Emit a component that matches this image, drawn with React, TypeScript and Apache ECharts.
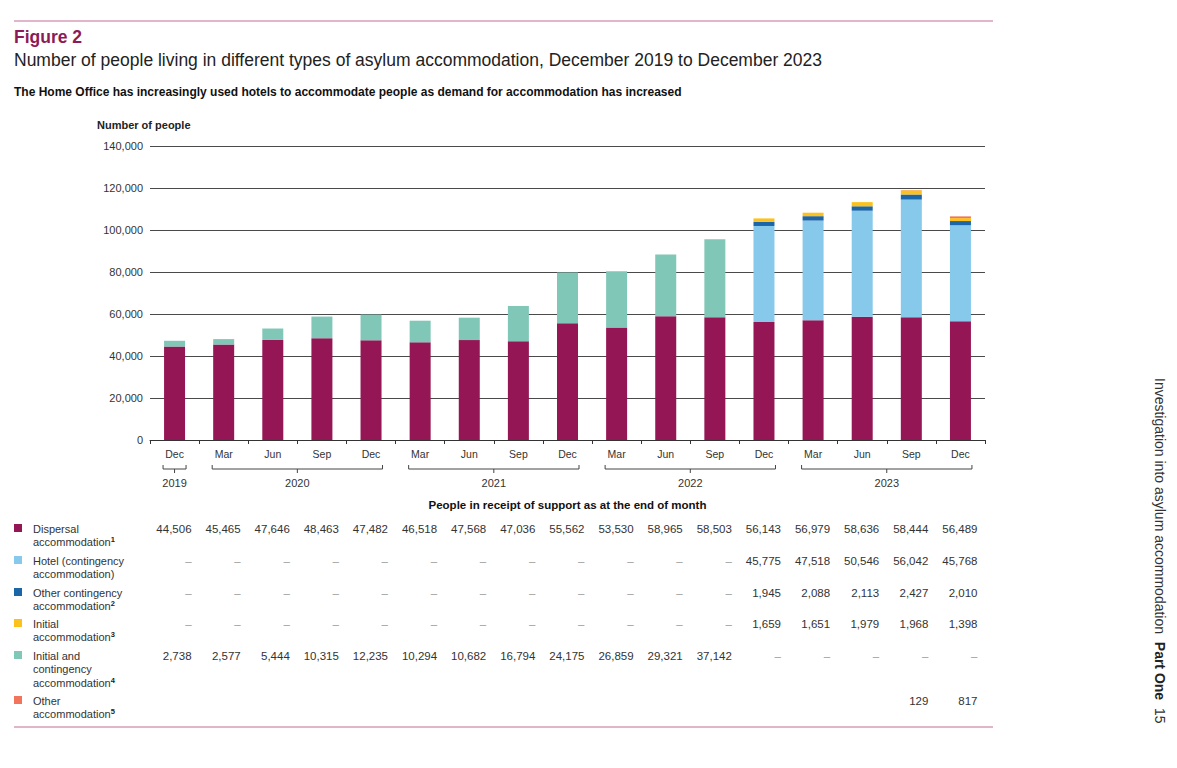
import React, { useEffect, useRef } from "react";
import * as echarts from "echarts";

const months = ["Dec", "Mar", "Jun", "Sep", "Dec", "Mar", "Jun", "Sep", "Dec", "Mar", "Jun", "Sep", "Dec", "Mar", "Jun", "Sep", "Dec"];
const N = null;
const dispersal = [44506, 45465, 47646, 48463, 47482, 46518, 47568, 47036, 55562, 53530, 58965, 58503, 56143, 56979, 58636, 58444, 56489];
const hotel = [N, N, N, N, N, N, N, N, N, N, N, N, 45775, 47518, 50546, 56042, 45768];
const otherContingency = [N, N, N, N, N, N, N, N, N, N, N, N, 1945, 2088, 2113, 2427, 2010];
const initial = [N, N, N, N, N, N, N, N, N, N, N, N, 1659, 1651, 1979, 1968, 1398];
const initialAndContingency = [2738, 2577, 5444, 10315, 12235, 10294, 10682, 16794, 24175, 26859, 29321, 37142, N, N, N, N, N];
const other = [N, N, N, N, N, N, N, N, N, N, N, N, N, N, N, 129, 817];

const years = [
  { label: "2019", from: 0, to: 0 },
  { label: "2020", from: 1, to: 4 },
  { label: "2021", from: 5, to: 8 },
  { label: "2022", from: 9, to: 12 },
  { label: "2023", from: 13, to: 16 },
];
const yTicks = [0, 20000, 40000, 60000, 80000, 100000, 120000, 140000];

const C = {
  dispersal: "#951654",
  hotel: "#86c9ea",
  otherContingency: "#1a66a8",
  initial: "#fcc11a",
  initialAndContingency: "#80c7b7",
  other: "#f0755c",
};

const rows = [
  { name: "Dispersal\naccommodation{s|1}", data: dispersal, color: C.dispersal, dash: true, y: 529 },
  { name: "Hotel (contingency\naccommodation)", data: hotel, color: C.hotel, dash: true, y: 561 },
  { name: "Other contingency\naccommodation{s|2}", data: otherContingency, color: C.otherContingency, dash: true, y: 593 },
  { name: "Initial\naccommodation{s|3}", data: initial, color: C.initial, dash: true, y: 624 },
  { name: "Initial and\ncontingency\naccommodation{s|4}", data: initialAndContingency, color: C.initialAndContingency, dash: true, y: 656 },
  { name: "Other\naccommodation{s|5}", data: other, color: C.other, dash: false, y: 701 },
];

const FONT = "'Liberation Sans', Arial, sans-serif";
const fmt = (v: number) => v.toLocaleString("en-GB");

export default function App() {
  const ref = useRef<HTMLDivElement>(null);
  useEffect(() => {
    document.body.style.margin = "0";
    const chart = echarts.init(ref.current!, undefined, { renderer: "svg" });
    const z = (d: (number | null)[]) => d.map((v) => (v == null ? 0 : v));
    const mk = (name: string, data: (number | null)[], color: string) => ({
      name,
      type: "bar",
      stack: "total",
      data: z(data),
      barWidth: 21,
      itemStyle: { color },
      emphasis: { disabled: true },
    });
    chart.setOption({
      animation: false,
      textStyle: { fontFamily: FONT },
      grid: { left: 150, right: 192, top: 146, height: 294, containLabel: false },
      xAxis: {
        type: "category",
        data: months,
        axisLine: { lineStyle: { color: "#333", width: 1 } },
        axisTick: { show: true, alignWithLabel: false, length: 4, lineStyle: { color: "#333" } },
        axisLabel: { color: "#333", fontSize: 10.5, margin: 8, interval: 0, fontFamily: FONT },
      },
      yAxis: {
        type: "value",
        min: yTicks[0],
        max: yTicks[yTicks.length - 1],
        interval: 20000,
        axisLine: { show: false },
        axisTick: { show: false },
        splitLine: { lineStyle: { color: "#4a4a4a", width: 1 } },
        axisLabel: { color: "#333", fontSize: 11, margin: 7, formatter: (v: number) => fmt(v), fontFamily: FONT },
      },
      series: [
        mk("Dispersal", dispersal, C.dispersal),
        mk("Initial and contingency", initialAndContingency, C.initialAndContingency),
        mk("Hotel", hotel, C.hotel),
        mk("Other contingency", otherContingency, C.otherContingency),
        mk("Initial", initial, C.initial),
        mk("Other", other, C.other),
      ],
    });

    const xs = months.map((_, i) => chart.convertToPixel({ xAxisIndex: 0 }, i) as number);
    const g: any[] = [];
    // rules
    g.push({ type: "line", shape: { x1: 14, y1: 21, x2: 993, y2: 21 }, style: { stroke: "#c66b97", lineWidth: 1 } });
    g.push({ type: "line", shape: { x1: 14, y1: 727, x2: 993, y2: 727 }, style: { stroke: "#c66b97", lineWidth: 1 } });
    // titles
    g.push({ type: "text", x: 14, y: 37, style: { text: "Figure 2", fill: "#8c1a58", font: `bold 17.5px ${FONT}`, textVerticalAlign: "middle" } });
    g.push({ type: "text", x: 14, y: 60, style: { text: "Number of people living in different types of asylum accommodation, December 2019 to December 2023", fill: "#222", font: `17.5px ${FONT}`, textVerticalAlign: "middle" } });
    g.push({ type: "text", x: 14, y: 92, style: { text: "The Home Office has increasingly used hotels to accommodate people as demand for accommodation has increased", fill: "#111", font: `bold 12px ${FONT}`, textVerticalAlign: "middle" } });
    g.push({ type: "text", x: 97, y: 125, style: { text: "Number of people", fill: "#222", font: `bold 11px ${FONT}`, textVerticalAlign: "middle" } });
    // year brackets
    years.forEach((yr) => {
      const a = xs[yr.from] - 11.5;
      const b = xs[yr.to] + 11.5;
      const m = (a + b) / 2;
      g.push({ type: "polyline", shape: { points: [[a, 465], [a, 469], [b, 469], [b, 465]] }, style: { stroke: "#444", lineWidth: 1, fill: null } });
      g.push({ type: "line", shape: { x1: m, y1: 469, x2: m, y2: 473 }, style: { stroke: "#444", lineWidth: 1 } });
      g.push({ type: "text", x: m, y: 483, style: { text: yr.label, fill: "#333", font: `11px ${FONT}`, textAlign: "center", textVerticalAlign: "middle" } });
    });
    g.push({ type: "text", x: (xs[0] + xs[16]) / 2, y: 505, style: { text: "People in receipt of support as at the end of month", fill: "#111", font: `bold 11.5px ${FONT}`, textAlign: "center", textVerticalAlign: "middle" } });
    // table
    rows.forEach((r) => {
      g.push({ type: "rect", shape: { x: 14, y: r.y - 5, width: 8, height: 8 }, style: { fill: r.color } });
      g.push({
        type: "text",
        x: 33,
        y: r.y - 7,
        style: {
          text: r.name,
          fill: "#333",
          font: `11px ${FONT}`,
          lineHeight: 13.5,
          textVerticalAlign: "top",
          rich: { s: { font: `bold 7.5px ${FONT}`, fill: "#222", lineHeight: 13.5, verticalAlign: "top", padding: [0, 0, 5, 0] } },
        },
      });
      r.data.forEach((v, i) => {
        if (v == null && !r.dash) return;
        g.push({
          type: "text",
          x: xs[i] + 17,
          y: r.y,
          style: {
            text: v == null ? "–" : fmt(v),
            fill: v == null ? "#999" : "#333",
            font: `11.5px ${FONT}`,
            textAlign: "right",
            textVerticalAlign: "middle",
          },
        });
      });
    });
    // side text
    g.push({
      type: "text",
      x: 1160,
      y: 378,
      rotation: -Math.PI / 2,
      style: {
        text: "Investigation into asylum accommodation  {b|Part One}  15",
        rich: { b: { font: `bold 14px ${FONT}`, fill: "#222" } },
        fill: "#333",
        font: `14px ${FONT}`,
        textAlign: "left",
        textVerticalAlign: "middle",
      },
    });
    chart.setOption({ graphic: g });
    return () => chart.dispose();
  }, []);
  return <div ref={ref} style={{ position: "absolute", left: 0, top: 0, width: 1177, height: 768, background: "#fff" }} />;
}
